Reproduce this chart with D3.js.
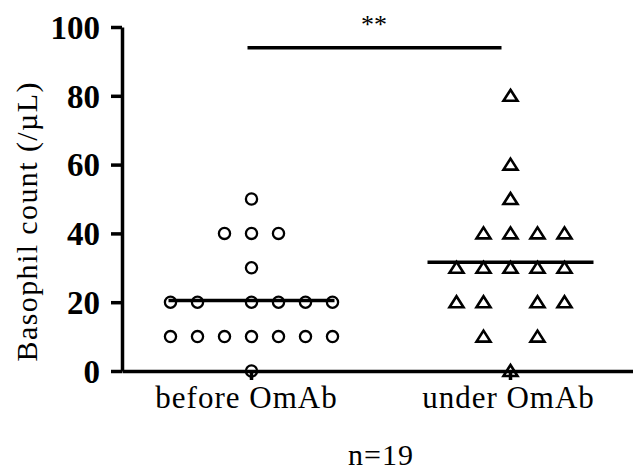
<!DOCTYPE html>
<html>
<head>
<meta charset="utf-8">
<script src="https://cdn.jsdelivr.net/npm/d3@7"></script>
<style>
    body { margin: 0; background: #fff; }
    svg text { font-family: "Liberation Serif", "Times New Roman", serif; fill: #000; }
</style>
</head>
<body>
<svg id="chart" width="633" height="472"></svg>
<script>
// groups on the x axis
const groups = ["before OmAb", "under OmAb"];

// basophil counts, with the column slot each point sits in
const beforeValues = [0, 10, 10, 10, 10, 10, 10, 10, 20, 20, 20, 20, 20, 20, 30, 40, 40, 40, 50];
const beforeSlots  = [0, -3, -2, -1, 0, 1, 2, 3, -3, -2, 0, 1, 2, 3, 0, -1, 0, 1, 0];
const underValues  = [0, 10, 10, 20, 20, 20, 20, 30, 30, 30, 30, 30, 40, 40, 40, 40, 50, 60, 80];
const underSlots   = [0, -1, 1, -2, -1, 1, 2, -2, -1, 0, 1, 2, -1, 0, 1, 2, 0, 0, 0];

const yTicks = [0, 20, 40, 60, 80, 100];
const sigLabel = "**";
const sigLevel = 94;
const yTitle = "Basophil count (/\u00b5L)";
const footNote = "n=19";

const svg = d3.select("#chart");

const x = d3.scaleBand().domain(groups).range([122, 640]).padding(0);
const xc = g => x(g) + x.bandwidth() / 2;
const y = d3.scaleLinear().domain([0, 100]).range([371, 27]);
const slot = d3.scaleLinear().domain([-1, 1]).range([-27, 27]);

// y axis
const yAxis = svg.append("g")
    .attr("transform", "translate(122,0)")
    .call(d3.axisLeft(y).tickValues(yTicks).tickSize(11).tickPadding(11).tickSizeOuter(0));
yAxis.select(".domain").attr("stroke-width", 3.5);
yAxis.selectAll(".tick line").attr("stroke-width", 3.5);
yAxis.selectAll(".tick text")
    .attr("font-weight", "bold")
    .attr("font-size", 33)
    .attr("dy", "0.34em");

// x axis
const xAxis = svg.append("g")
    .attr("transform", "translate(0,371)")
    .call(d3.axisBottom(x).tickSize(9).tickSizeOuter(0).tickPadding(8));
xAxis.select(".domain").attr("stroke-width", 3.5);
xAxis.selectAll(".tick line").attr("stroke-width", 3.5);
xAxis.selectAll(".tick text")
    .attr("font-size", 31)
    .attr("letter-spacing", 1)
    .attr("dx", (d, i) => i === 0 ? -5 : -2)
    .attr("dy", "0.64em");

// axis title
svg.append("text")
    .attr("transform", "translate(37,222) rotate(-90)")
    .attr("text-anchor", "middle")
    .attr("font-size", 30)
    .attr("textLength", 279)
    .attr("lengthAdjust", "spacing")
    .text(yTitle);

svg.append("text")
    .attr("x", (xc(groups[0]) + xc(groups[1])) / 2)
    .attr("y", 465)
    .attr("text-anchor", "middle")
    .attr("font-size", 30)
    .attr("letter-spacing", 1)
    .text(footNote);

// points
const before = beforeValues.map((v, i) => ({ v, s: beforeSlots[i] }));
const under = underValues.map((v, i) => ({ v, s: underSlots[i] }));

svg.append("g").selectAll("circle")
    .data(before)
    .join("circle")
    .attr("cx", d => xc(groups[0]) + slot(d.s))
    .attr("cy", d => y(d.v))
    .attr("r", 5.6)
    .attr("fill", "none")
    .attr("stroke", "#000")
    .attr("stroke-width", 2.3);

svg.append("g").selectAll("path")
    .data(under)
    .join("path")
    .attr("transform", d => `translate(${xc(groups[1]) + slot(d.s)},${y(d.v)})`)
    .attr("d", "M0,-6L7,5L-7,5Z")
    .attr("fill", "none")
    .attr("stroke", "#000")
    .attr("stroke-width", 2.6)
    .attr("stroke-linejoin", "miter");

// mean lines
[beforeValues, underValues].forEach((vals, i) => {
    const m = d3.mean(vals);
    const cx = xc(groups[i]);
    svg.append("line")
        .attr("x1", cx - 83).attr("x2", cx + 83)
        .attr("y1", y(m)).attr("y2", y(m))
        .attr("stroke", "#000")
        .attr("stroke-width", 3.5);
});

// significance bar
svg.append("line")
    .attr("x1", xc(groups[0]) - 4).attr("x2", xc(groups[1]) - 9)
    .attr("y1", y(sigLevel)).attr("y2", y(sigLevel))
    .attr("stroke", "#000")
    .attr("stroke-width", 3.5);

svg.append("text")
    .attr("x", 374)
    .attr("y", 33)
    .attr("text-anchor", "middle")
    .attr("font-size", 26)
    .text(sigLabel);
</script>
</body>
</html>
